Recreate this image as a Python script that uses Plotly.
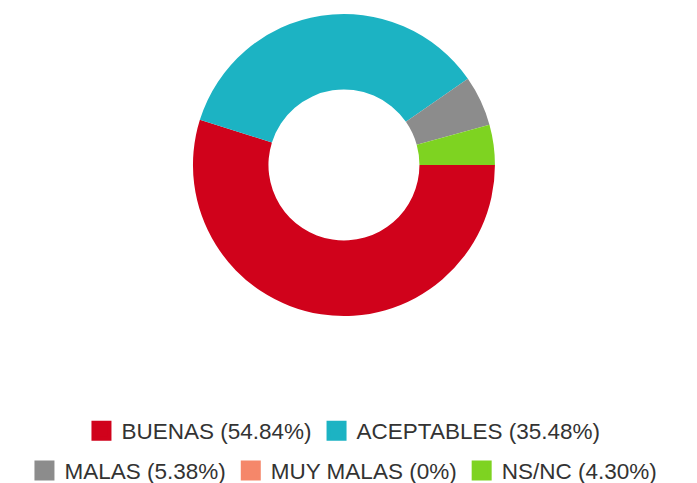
import plotly.graph_objects as go

labels = ["BUENAS (54.84%)", "ACEPTABLES (35.48%)", "MALAS (5.38%)", "MUY MALAS (0%)", "NS/NC (4.30%)"]
values = [51, 33, 5, 0, 4]
colors = ["#d0021b", "#1cb3c3", "#8c8c8c", "#f5876a", "#7ed321"]
legend_rows = ["legend", "legend", "legend2", "legend2", "legend2"]

fig = go.Figure()
fig.add_trace(go.Pie(
    labels=labels, values=values, hole=0.5, sort=False,
    direction="clockwise", rotation=90, textinfo="none",
    marker=dict(colors=colors, line=dict(width=0)),
    domain=dict(x=[0, 0.964], y=[0.3624, 0.9876]),
    hoverinfo="none", showlegend=False,
))
for lab, col, lg in zip(labels, colors, legend_rows):
    fig.add_trace(go.Scatter(
        x=[None], y=[None], mode="markers", name=lab, legend=lg,
        marker=dict(symbol="square", size=16, color=col, line=dict(width=4, color=col)),
        hoverinfo="skip",
    ))

legend_font = dict(family="Liberation Sans, Arial", size=22.5, color="#333333")
fig.update_layout(
    width=697, height=483,
    margin=dict(l=0, r=0, t=0, b=0, autoexpand=False),
    paper_bgcolor="white", plot_bgcolor="white",
    xaxis=dict(visible=False), yaxis=dict(visible=False),
    legend=dict(orientation="h", x=0.4813, xanchor="center", y=0.1242, yanchor="middle",
                font=legend_font, itemwidth=30, bgcolor="rgba(0,0,0,0)"),
    legend2=dict(orientation="h", x=0.4813, xanchor="center", y=0.0415, yanchor="middle",
                 font=legend_font, itemwidth=30, bgcolor="rgba(0,0,0,0)"),
)
fig.write_html("out.html")
